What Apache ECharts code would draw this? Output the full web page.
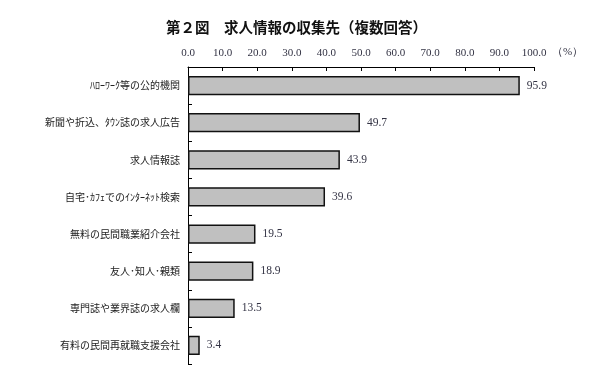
<!DOCTYPE html>
<html>
<head>
<meta charset="utf-8">
<script src="https://cdn.jsdelivr.net/npm/echarts@6/dist/echarts.min.js"></script>
<style>html,body{margin:0;padding:0;background:#fff;}#c{width:612px;height:376px;}</style>
</head>
<body>
<div id="c"></div>
<script>
const titleText = '第２図　求人情報の収集先（複数回答）';
const categories = [
  'ﾊﾛｰﾜｰｸ等の公的機関',
  '新聞や折込、ﾀｳﾝ誌の求人広告',
  '求人情報誌',
  '自宅･ｶﾌｪでのｲﾝﾀｰﾈｯﾄ検索',
  '無料の民間職業紹介会社',
  '友人･知人･親類',
  '専門誌や業界誌の求人欄',
  '有料の民間再就職支援会社'
];
const values = [95.9, 49.7, 43.9, 39.6, 19.5, 18.9, 13.5, 3.4];
const unitLabel = '（%）';

const jp = '"Noto Sans CJK JP", sans-serif';
const serif = '"Liberation Serif", "DejaVu Serif", serif';
const chart = echarts.init(document.getElementById('c'), null, {renderer: 'canvas'});
chart.setOption({
  animation: false,
  backgroundColor: '#fff',
  title: {
    text: titleText,
    left: 161, top: 15,
    textStyle: {fontFamily: jp, fontSize: 14.5, fontWeight: 'bold', color: '#111'}
  },
  grid: {left: 188, right: 78, top: 67, bottom: 12, containLabel: false},
  xAxis: {
    type: 'value', position: 'top', min: 0, max: 100, interval: 10,
    axisLine: {show: true, lineStyle: {color: '#000', width: 1}},
    axisTick: {show: true, inside: true, length: 4, lineStyle: {color: '#000'}},
    splitLine: {show: false},
    axisLabel: {margin: 8, fontFamily: serif, fontSize: 11, color: '#334',
      formatter: v => v.toFixed(1)}
  },
  yAxis: {
    type: 'category', data: categories, inverse: true,
    axisLine: {show: true, lineStyle: {color: '#000', width: 1}},
    axisTick: {show: true, inside: true, length: 4, alignWithLabel: false, lineStyle: {color: '#000'}},
    axisLabel: {margin: 8, fontFamily: jp, fontSize: 10, color: '#222'}
  },
  graphic: [{
    type: 'text', left: 552, top: 47,
    style: {text: unitLabel, font: '11px ' + serif, fill: '#334'}
  }],
  series: [{
    type: 'bar', data: values, barWidth: '52%',
    itemStyle: {color: '#c0c0c0', borderColor: '#111', borderWidth: 1.5},
    label: {show: true, position: 'right', distance: 7, fontFamily: serif, fontSize: 11.5, color: '#334',
      formatter: p => p.value.toFixed(1)}
  }]
});
</script>
</body>
</html>
